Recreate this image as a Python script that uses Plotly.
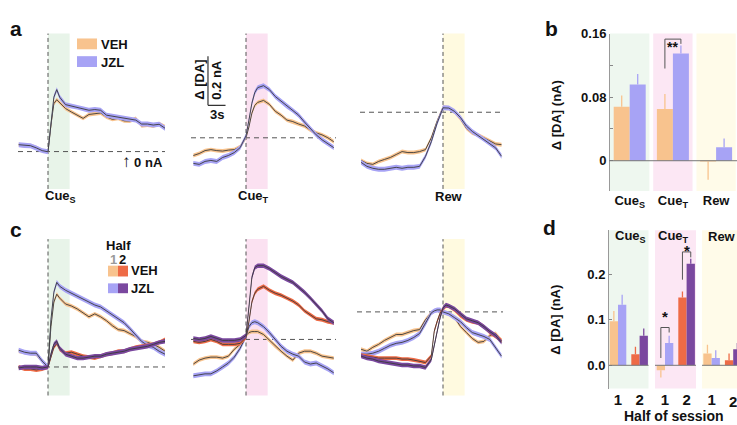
import plotly.graph_objects as go

# ======================= DATA =======================
# time grids (s) relative to each task event
t_cue_s = [-5, -4, -3, -2, -1, 0, 0.5, 1, 1.5, 2, 3, 4, 5, 6, 7, 8, 9, 10,
           11, 12, 13, 14, 15, 16, 17, 18, 19, 20]
t_cue_t = [-9, -8, -7, -6, -5, -4, -3, -2, -1, 0, 0.5, 1, 1.5, 2, 3, 4, 5, 6,
           7, 8, 9, 10, 11, 12, 13, 14, 15]
t_rew_a = [-14, -13, -12, -11, -10, -9, -8, -7, -6, -5, -4, -3, -2, -1, 0,
           1, 2, 3, 4, 5, 6, 7, 8, 9, 10]
t_rew_c = [-14, -13, -12, -11, -10, -9, -8, -7, -6, -5, -4, -3, -2, -1.5, -1,
           -0.5, 0, 0.5, 1, 2, 3, 4, 5, 6, 7, 8, 9, 10]

# ---- panel a: mean Δ[DA] (nA) ----
a_cue_s_veh = [0.028, 0.024, 0.024, 0.016, 0.004, 0.0, 0.108, 0.195, 0.211, 0.199,
               0.175, 0.161, 0.148, 0.135, 0.151, 0.155, 0.157, 0.141, 0.131, 0.135,
               0.125, 0.124, 0.135, 0.105, 0.108, 0.104, 0.113, 0.101]
a_cue_s_jzl = [0.028, 0.025, 0.024, 0.015, 0.004, -0.001, 0.116, 0.221, 0.252, 0.221,
               0.191, 0.185, 0.181, 0.175, 0.168, 0.171, 0.168, 0.148, 0.144, 0.141,
               0.135, 0.132, 0.128, 0.112, 0.112, 0.108, 0.111, 0.095]
a_cue_t_veh = [-0.016, -0.008, 0.004, 0.008, 0.004, 0.002, 0.006, 0.008, 0.02,
               0.056, 0.1, 0.156, 0.188, 0.2, 0.208, 0.192, 0.164, 0.148, 0.128,
               0.122, 0.112, 0.104, 0.088, 0.076, 0.068, 0.056, 0.04]
a_cue_t_jzl = [-0.048, -0.052, -0.04, -0.036, -0.04, -0.024, -0.016, -0.004, 0.016,
               0.064, 0.128, 0.196, 0.24, 0.26, 0.268, 0.252, 0.224, 0.204, 0.184,
               0.168, 0.148, 0.12, 0.092, 0.068, 0.048, 0.032, 0.016]
a_rew_veh = [-0.036, -0.048, -0.052, -0.04, -0.032, -0.024, -0.012, 0.0, -0.004,
             -0.004, 0.0, 0.008, 0.056, 0.124, 0.18, 0.177, 0.161, 0.132, 0.095,
             0.075, 0.068, 0.055, 0.041, 0.031, 0.028]
a_rew_jzl = [-0.044, -0.06, -0.068, -0.072, -0.072, -0.068, -0.064, -0.068, -0.064,
             -0.064, -0.06, -0.02, 0.04, 0.116, 0.178, 0.177, 0.163, 0.138, 0.104,
             0.082, 0.066, 0.05, 0.034, 0.015, -0.019]
a_ref_levels = [0.0, 0.056, 0.16]          # dashed reference lines
a_sem = {"VEH": 0.008, "JZL": 0.010}

# ---- panel c: by half of session ----
c_cue_s_veh1 = [0.064, 0.06, 0.056, 0.052, 0.024, 0.0, 0.164, 0.264, 0.296, 0.28,
                0.256, 0.248, 0.236, 0.22, 0.204, 0.216, 0.204, 0.188, 0.168, 0.152,
                0.148, 0.136, 0.124, 0.104, 0.1, 0.092, 0.08, 0.064]
c_cue_s_jzl1 = [0.068, 0.06, 0.056, 0.056, 0.024, 0.0, 0.192, 0.304, 0.344, 0.328,
                0.312, 0.3, 0.288, 0.276, 0.264, 0.252, 0.244, 0.228, 0.212, 0.196,
                0.18, 0.156, 0.132, 0.104, 0.088, 0.08, 0.064, 0.052]
c_cue_s_veh2 = [0.0, -0.008, -0.008, -0.012, -0.008, 0.0, 0.04, 0.08, 0.096, 0.072,
                0.056, 0.06, 0.052, 0.044, 0.04, 0.036, 0.044, 0.052, 0.056, 0.064,
                0.064, 0.072, 0.08, 0.084, 0.088, 0.092, 0.1, 0.112]
c_cue_s_jzl2 = [-0.004, 0.0, 0.0, 0.0, -0.004, 0.0, 0.052, 0.092, 0.104, 0.076,
                0.052, 0.044, 0.036, 0.036, 0.04, 0.044, 0.044, 0.052, 0.056, 0.06,
                0.064, 0.072, 0.076, 0.08, 0.084, 0.092, 0.1, 0.104]
c_cue_t_veh1 = [0.012, 0.028, 0.036, 0.04, 0.04, 0.036, 0.044, 0.072, 0.092,
                0.128, 0.14, 0.144, 0.144, 0.144, 0.132, 0.108, 0.084, 0.064, 0.044,
                0.028, 0.056, 0.064, 0.064, 0.056, 0.044, 0.04, 0.036]
c_cue_t_jzl1 = [-0.036, -0.032, -0.028, -0.028, -0.016, 0.0, 0.016, 0.04, 0.076,
                0.124, 0.164, 0.18, 0.184, 0.18, 0.164, 0.14, 0.112, 0.084, 0.064,
                0.052, 0.044, 0.02, 0.012, 0.016, 0.004, -0.008, -0.024]
c_cue_t_veh2 = [0.104, 0.1, 0.104, 0.112, 0.104, 0.092, 0.092, 0.092, 0.096,
                0.12, 0.184, 0.264, 0.3, 0.316, 0.328, 0.312, 0.3, 0.292, 0.28,
                0.268, 0.252, 0.228, 0.212, 0.196, 0.192, 0.184, 0.18]
c_cue_t_jzl2 = [0.116, 0.112, 0.116, 0.124, 0.116, 0.108, 0.108, 0.108, 0.112,
                0.128, 0.244, 0.364, 0.404, 0.412, 0.412, 0.4, 0.384, 0.368, 0.356,
                0.344, 0.324, 0.304, 0.28, 0.256, 0.228, 0.196, 0.18]
c_rew_veh1 = [0.072, 0.064, 0.08, 0.092, 0.108, 0.12, 0.132, 0.132, 0.14, 0.148,
              0.152, 0.192, 0.22, 0.228, 0.232, 0.232, 0.224, 0.22, 0.216, 0.2,
              0.164, 0.14, 0.116, 0.1, 0.104, 0.128, 0.136, 0.108]
c_rew_jzl1 = [0.052, 0.052, 0.056, 0.064, 0.076, 0.088, 0.096, 0.1, 0.108, 0.12,
              0.136, 0.176, 0.22, 0.228, 0.232, 0.232, 0.224, 0.22, 0.216, 0.2,
              0.184, 0.16, 0.14, 0.132, 0.124, 0.112, 0.08, 0.044]
c_rew_veh2 = [0.048, 0.044, 0.04, 0.036, 0.036, 0.036, 0.036, 0.032, 0.032, 0.028,
              0.024, 0.018, 0.045, 0.145, 0.185, 0.218, 0.236, 0.248, 0.248, 0.232,
              0.208, 0.192, 0.184, 0.18, 0.164, 0.14, 0.124, 0.108]
c_rew_jzl2 = [0.044, 0.036, 0.032, 0.024, 0.02, 0.016, 0.012, 0.008, 0.008, 0.004,
              0.004, -0.002, 0.03, 0.09, 0.145, 0.2, 0.24, 0.252, 0.248, 0.236,
              0.216, 0.196, 0.188, 0.18, 0.164, 0.144, 0.128, 0.1]
c_ref_levels = [0.0, 0.112, 0.224]
c_sem = {"VEH1": 0.008, "JZL1": 0.010, "VEH2": 0.008, "JZL2": 0.009}

# ---- panel b: mean Δ[DA] per event ----
b_events = ["Cue<sub>S</sub>", "Cue<sub>T</sub>", "Rew"]
b_veh = [0.068, 0.065, -0.001]
b_veh_sem = [0.014, 0.019, 0.023]
b_jzl = [0.096, 0.135, 0.017]
b_jzl_sem = [0.013, 0.010, 0.011]
b_yticks = [0, 0.04, 0.08, 0.12, 0.16]
b_yticktext = ["0", " ", "0.08", " ", "0.16"]

# ---- panel d: per event and half of session ----
d_events = ["Cue<sub>S</sub>", "Cue<sub>T</sub>", "Rew"]
d_halves = ["1", "2"]
d_veh_h1 = [0.097, -0.011, 0.026]
d_veh_h1_sem = [0.022, 0.016, 0.019]
d_jzl_h1 = [0.133, 0.049, 0.016]
d_jzl_h1_sem = [0.022, 0.016, 0.017]
d_veh_h2 = [0.024, 0.149, 0.011]
d_veh_h2_sem = [0.017, 0.013, 0.015]
d_jzl_h2 = [0.065, 0.223, 0.035]
d_jzl_h2_sem = [0.016, 0.011, 0.014]
d_yticks = [0, 0.1, 0.2]
d_yticktext = ["0.0", "0.1", "0.2"]

# ======================= STYLE / LAYOUT =======================
W, H = 737, 425
PXS = 5.85     # px per second in trace panels
PXN = 250.0    # px per nA in trace panels
FONT = "Arial, 'Liberation Sans', Helvetica, sans-serif"
C_VEH1, C_JZL1 = "#F8C38E", "#A7A3F5"
C_VEH2, C_JZL2 = "#EE6B46", "#7A489F"
C_MEAN = "#3a3a3a"
BAND_G, BAND_P, BAND_Y = "#E8F4E9", "#FBE1F1", "#FFFAE0"
BAND_G2, BAND_P2, BAND_Y2 = "#EEF7EF", "#FCE7F4", "#FFFBE9"
DASH = "#555555"


def fx(px):
    return px / W


def fy(py):
    return 1 - py / H


fig = go.Figure()
shapes, annotations = [], []
layout = dict(width=W, height=H, margin=dict(l=0, r=0, t=0, b=0),
              paper_bgcolor="white", plot_bgcolor="rgba(0,0,0,0)",
              showlegend=False, barmode="overlay",
              font=dict(family=FONT, color="#111"))


def txt(x, y, s, size=13, color="#111", angle=0, xanchor="center"):
    annotations.append(dict(x=fx(x), y=fy(y), xref="paper", yref="paper", text=s,
                            showarrow=False, textangle=angle, xanchor=xanchor,
                            yanchor="middle",
                            font=dict(family=FONT, size=size, color=color, weight="bold")))


def prect(x0, y0, x1, y1, color):
    shapes.append(dict(type="rect", xref="paper", yref="paper", x0=fx(x0), x1=fx(x1),
                       y0=fy(y1), y1=fy(y0), fillcolor=color, line=dict(width=0),
                       layer="below"))


# ---------------- trace panels (a and c) ----------------
trace_panels = [
    dict(n=1, xl=18, xr=165, xe=48, yt=27, yb=185, y0=147, band=BAND_G, ref=a_ref_levels[0],
         t=t_cue_s, series=[(a_cue_s_veh, a_sem["VEH"], C_VEH1), (a_cue_s_jzl, a_sem["JZL"], C_JZL1)]),
    dict(n=2, xl=191, xr=336, xe=246, yt=27, yb=185, y0=147, band=BAND_P, ref=a_ref_levels[1],
         t=t_cue_t, series=[(a_cue_t_veh, a_sem["VEH"], C_VEH1), (a_cue_t_jzl, a_sem["JZL"], C_JZL1)]),
    dict(n=3, xl=360, xr=503, xe=443, yt=27, yb=185, y0=147, band=BAND_Y, ref=a_ref_levels[2],
         t=t_rew_a, series=[(a_rew_veh, a_sem["VEH"], C_VEH1), (a_rew_jzl, a_sem["JZL"], C_JZL1)]),
    dict(n=4, xl=18, xr=165, xe=48, yt=236, yb=395, y0=366, band=BAND_G, ref=c_ref_levels[0],
         t=t_cue_s, series=[(c_cue_s_veh1, c_sem["VEH1"], C_VEH1), (c_cue_s_jzl1, c_sem["JZL1"], C_JZL1),
                            (c_cue_s_veh2, c_sem["VEH2"], C_VEH2), (c_cue_s_jzl2, c_sem["JZL2"], C_JZL2)]),
    dict(n=5, xl=191, xr=336, xe=246, yt=236, yb=395, y0=366, band=BAND_P, ref=c_ref_levels[1],
         t=t_cue_t, series=[(c_cue_t_veh1, c_sem["VEH1"], C_VEH1), (c_cue_t_jzl1, c_sem["JZL1"], C_JZL1),
                            (c_cue_t_veh2, c_sem["VEH2"], C_VEH2), (c_cue_t_jzl2, c_sem["JZL2"], C_JZL2)]),
    dict(n=6, xl=357, xr=503, xe=443, yt=236, yb=395, y0=366, band=BAND_Y, ref=c_ref_levels[2],
         t=t_rew_c, series=[(c_rew_veh1, c_sem["VEH1"], C_VEH1), (c_rew_jzl1, c_sem["JZL1"], C_JZL1),
                            (c_rew_veh2, c_sem["VEH2"], C_VEH2), (c_rew_jzl2, c_sem["JZL2"], C_JZL2)]),
]

for p in trace_panels:
    s = "" if p["n"] == 1 else str(p["n"])
    layout["xaxis" + s] = dict(domain=[fx(p["xl"]), fx(p["xr"])],
                               range=[(p["xl"] - p["xe"]) / PXS, (p["xr"] - p["xe"]) / PXS],
                               visible=False, anchor="y" + s)
    layout["yaxis" + s] = dict(domain=[fy(p["yb"]), fy(p["yt"])],
                               range=[-(p["yb"] - p["y0"]) / PXN, (p["y0"] - p["yt"]) / PXN],
                               visible=False, anchor="x" + s)
    shapes.append(dict(type="rect", xref="x" + s, yref="y" + s + " domain", x0=0, x1=3.7,
                       y0=0, y1=1, fillcolor=p["band"], line=dict(width=0), layer="below"))
    shapes.append(dict(type="line", xref="x" + s, yref="y" + s + " domain", x0=0, x1=0,
                       y0=0, y1=1, line=dict(color=DASH, width=1, dash="4px,3px"), layer="below"))
    shapes.append(dict(type="line", xref="x" + s + " domain", yref="y" + s, x0=0, x1=1,
                       y0=p["ref"], y1=p["ref"], line=dict(color=DASH, width=1, dash="5px,4px"),
                       layer="below"))
    t = p["t"]
    for vals, sem, col in p["series"]:
        up = [v + sem for v in vals]
        lo = [v - sem for v in vals]
        fig.add_trace(go.Scatter(x=t + t[::-1], y=up + lo[::-1], fill="toself", fillcolor=col,
                                 line=dict(width=0), mode="lines", hoverinfo="skip",
                                 xaxis="x" + s, yaxis="y" + s))
        fig.add_trace(go.Scatter(x=t, y=vals, mode="lines", line=dict(color=C_MEAN, width=0.9),
                                 hoverinfo="skip", xaxis="x" + s, yaxis="y" + s))

# scale bar (0.2 nA, 3 s) in panel a2
SB_T, SB_Y = -6.5, 0.188
shapes.append(dict(type="line", xref="x2", yref="y2", x0=SB_T, x1=SB_T, y0=SB_Y, y1=SB_Y + 0.2,
                   line=dict(color="#333", width=1.2)))
shapes.append(dict(type="line", xref="x2", yref="y2", x0=SB_T, x1=SB_T + 3, y0=SB_Y, y1=SB_Y,
                   line=dict(color="#333", width=1.2)))
txt(200, 74, "Δ [DA]", size=13, angle=-90)
txt(217, 74, "0.2 nA", size=13, angle=-90)
txt(217, 109, "3s", size=13)

# event labels under panel a
txt(60, 193, "Cue<sub>S</sub>", size=13)
txt(253, 193, "Cue<sub>T</sub>", size=13)
txt(449, 193, "Rew", size=13)
txt(142, 157, "<span style='font-size:17px'>↑</span> 0 nA", size=13)

# legend a
prect(77, 32, 97, 43, C_VEH1)
prect(77, 50, 97, 61, C_JZL1)
txt(99, 38, "VEH", size=13, xanchor="left")
txt(99, 56, "JZL", size=13, xanchor="left")

# legend c
txt(118, 243, "Half", size=13)
txt(113, 257, "1", size=13, color="#9a9a9a")
txt(123, 257, "2", size=13)
prect(108, 263, 118, 274, C_VEH1)
prect(118, 263, 128, 274, C_VEH2)
prect(108, 281, 118, 291, C_JZL1)
prect(118, 281, 128, 291, C_JZL2)
txt(129, 268, "VEH", size=13, xanchor="left")
txt(129, 286, "JZL", size=13, xanchor="left")

# panel letters
txt(16, 22, "a", size=21)
txt(551, 22, "b", size=21)
txt(16, 226, "c", size=21)
txt(549, 224, "d", size=21)

# ---------------- panel b ----------------
B_XL, B_YT, B_YB, B_Y0 = 609, 27, 187, 156.3
B_CAT_PX, B_C0 = 43.2, 629.7
B_PXN = (B_Y0 - B_YT) / 0.16
BW_B = 16 / B_CAT_PX
layout["xaxis7"] = dict(domain=[fx(B_XL), 1], anchor="y7",
                        range=[-(B_C0 - B_XL) / B_CAT_PX, (W - B_C0) / B_CAT_PX],
                        tickvals=[0, 1, 2], ticktext=b_events, showline=False, ticks="",
                        showgrid=False, zeroline=False, ticklabeloverflow="allow",
                        tickfont=dict(family=FONT, size=13, color="#111", weight="bold"))
layout["yaxis7"] = dict(domain=[fy(B_YB), fy(B_YT)], anchor="free", position=fx(B_XL),
                        range=[-(B_YB - B_Y0) / B_PXN, 0.16], tickvals=b_yticks,
                        ticktext=b_yticktext, ticks="inside", ticklen=3, tickcolor="#888",
                        showline=True, linecolor="#999", linewidth=1, showgrid=False,
                        zeroline=False,
                        tickfont=dict(family=FONT, size=13, color="#111", weight="bold"))
for i, col in enumerate([BAND_G2, BAND_P2, BAND_Y2]):
    shapes.append(dict(type="rect", xref="x7", yref="y7 domain", x0=i - 0.455, x1=i + 0.455,
                       y0=0, y1=1, fillcolor=col, line=dict(width=0), layer="below"))
shapes.append(dict(type="line", xref="x7 domain", yref="y7", x0=0, x1=1, y0=0, y1=0,
                   line=dict(color="#777", width=1)))
for vals, sems, col, off in [(b_veh, b_veh_sem, C_VEH1, -BW_B), (b_jzl, b_jzl_sem, C_JZL1, 0)]:
    up = [e if v >= 0 else 0 for v, e in zip(vals, sems)]
    dn = [0 if v >= 0 else e for v, e in zip(vals, sems)]
    fig.add_trace(go.Bar(x=[0, 1, 2], y=vals, width=BW_B, offset=off,
                         marker=dict(color=col, line=dict(width=0)),
                         error_y=dict(type="data", symmetric=False, array=up, arrayminus=dn,
                                      color=col, thickness=1.3, width=0),
                         xaxis="x7", yaxis="y7", hoverinfo="skip"))
# significance bracket (Cue_T)
shapes.append(dict(type="path", xref="x7", yref="y7",
                   path=f"M {1 - BW_B / 2},0.116 L {1 - BW_B / 2},0.153 L {1 + BW_B / 2},0.153 L {1 + BW_B / 2},0.147",
                   line=dict(color="#555", width=1)))
annotations.append(dict(x=1, y=fy(30), xref="x7", yref="paper", text="**", showarrow=False,
                        font=dict(family=FONT, size=14, color="#111", weight="bold")))
txt(556, 110, "Δ [DA] (nA)", size=13, angle=-90)

# ---------------- panel d ----------------
D_YT, D_YB, D_Y0 = 227, 388, 364.3
D_PXN = 463.0
D_CAT_PX = 21.6
BW_D = 8.3 / D_CAT_PX
d_group_px = [618.0, 665.0, 711.6]          # centre of half-1 pair per event
d_band_px = [(609, 648.5), (655, 696), (702, 737)]
d_label_px = [630, 673, 722]
layout["yaxis8"] = dict(domain=[fy(D_YB), fy(D_YT)], anchor="free", position=fx(608),
                        range=[-(D_YB - D_Y0) / D_PXN, (D_Y0 - D_YT) / D_PXN],
                        tickvals=d_yticks, ticktext=d_yticktext, ticks="inside", ticklen=3,
                        tickcolor="#888", showline=True, linecolor="#999", linewidth=1,
                        showgrid=False, zeroline=False,
                        tickfont=dict(family=FONT, size=13, color="#111", weight="bold"))
for i, ev in enumerate(d_events):
    n = 8 + i
    left = d_group_px[i] - D_CAT_PX / 2
    right = min(W, left + 2 * D_CAT_PX)
    last = i == len(d_events) - 1
    layout[f"xaxis{n}"] = dict(domain=[fx(left), fx(right)], anchor="y8",
                               range=[-0.5, -0.5 + (right - left) / D_CAT_PX],
                               tickvals=[0] if last else [0, 1],
                               ticktext=d_halves[:1] if last else d_halves,
                               ticks="", showline=False,
                               showgrid=False, zeroline=False, ticklabeloverflow="allow",
                               tickfont=dict(family=FONT, size=15, color="#111", weight="bold"))
    if last:
        # second-half label sits at the cropped right edge
        txt(left + 1.5 * D_CAT_PX, 401, d_halves[1], size=15)
    bx0, bx1 = d_band_px[i]
    prect(bx0, D_YT, bx1, D_YB, [BAND_G2, BAND_P2, BAND_Y2][i])
    shapes.append(dict(type="line", xref="paper", yref="y8", x0=fx(bx0), x1=fx(bx1), y0=0, y1=0,
                       line=dict(color="#777", width=1)))
    txt(d_label_px[i], 233, ev, size=13)
    bars = [(0, d_veh_h1[i], d_veh_h1_sem[i], C_VEH1, -BW_D),
            (0, d_jzl_h1[i], d_jzl_h1_sem[i], C_JZL1, 0),
            (1, d_veh_h2[i], d_veh_h2_sem[i], C_VEH2, -BW_D),
            (1, d_jzl_h2[i], d_jzl_h2_sem[i], C_JZL2, 0)]
    for h, v, e, col, off in bars:
        fig.add_trace(go.Bar(x=[h], y=[v], width=BW_D, offset=off,
                             marker=dict(color=col, line=dict(width=0)),
                             error_y=dict(type="data", symmetric=False,
                                          array=[e if v >= 0 else 0],
                                          arrayminus=[0 if v >= 0 else e],
                                          color=col, thickness=1.3, width=0),
                             xaxis=f"x{n}", yaxis="y8", hoverinfo="skip"))

# significance brackets in Cue_T (half 1 and half 2)
hb = BW_D / 2
shapes.append(dict(type="path", xref="x9", yref="y8",
                   path=f"M {-hb},0.016 L {-hb},0.083 L {hb},0.083 L {hb},0.072",
                   line=dict(color="#555", width=1)))
shapes.append(dict(type="path", xref="x9", yref="y8",
                   path=f"M {1 - hb},0.188 L {1 - hb},0.249 L {1 + hb},0.249 L {1 + hb},0.237",
                   line=dict(color="#555", width=1)))
annotations.append(dict(x=0, y=fy(325), xref="x9", yref="paper", text="*", showarrow=False,
                        font=dict(family=FONT, size=15, color="#111", weight="bold")))
annotations.append(dict(x=1, y=fy(248), xref="x9", yref="paper", text="*", showarrow=False,
                        font=dict(family=FONT, size=15, color="#111", weight="bold")))
txt(556, 318, "Δ [DA] (nA)", size=13, angle=-90)
txt(674, 416, "Half of session", size=14)

layout["shapes"] = shapes
layout["annotations"] = annotations
fig.update_layout(**layout)
fig.write_html("out.html", config={"displayModeBar": False},
               post_script="document.body.style.margin='0';document.body.style.padding='0';")
